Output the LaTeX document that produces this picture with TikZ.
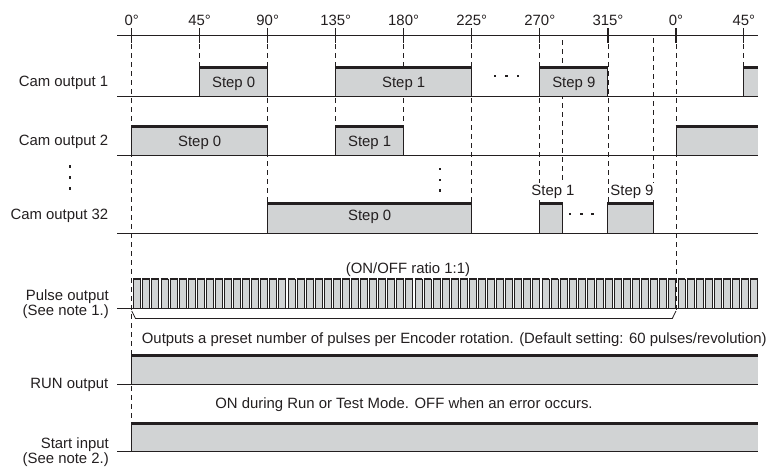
\documentclass[tikz,border=0pt]{standalone}
\usepackage{fontspec}
\setmainfont{Liberation Sans}
\definecolor{ink}{HTML}{231F20}
\definecolor{greyfill}{HTML}{D1D3D4}
\tikzset{
  lbl/.style={font=\fontsize{14.9}{17}\selectfont, inner sep=0pt, text=ink},
  twoline/.style={font=\fontsize{14.9}{13.3}\selectfont, inner sep=0pt, text=ink, align=right},
  baseln/.style={line width=1pt, draw=ink},
  highline/.style={line width=3pt, draw=ink},
  edgeline/.style={line width=0.9pt, draw=ink},
  guide/.style={line width=0.8pt, draw=ink, dash pattern=on 5pt off 4pt},
  tickln/.style={line width=1.3pt, draw=ink},
  dotsq/.style={fill=ink, minimum size=2.7pt, inner sep=0pt, draw=none, rectangle},
}
\newcommand\onblock[5]{%
  \fill[greyfill] (#1,#3) rectangle (#2,#4);
  \draw[edgeline] (#1,#4) -- (#1,#3);
  \ifnum#5=1 \draw[edgeline] (#2,#3) -- (#2,#4);\fi
  \draw[highline] (#1-0.45,#3) -- (#2+0.45,#3);
}
\begin{document}
\begin{tikzpicture}[x=1pt,y=-1pt]
\useasboundingbox (0,0) rectangle (770,469);

% ---------- angle axis ----------
\draw[line width=1.2pt, draw=ink] (117,35.7) -- (758,35.7);
\foreach \x/\t [count=\n] in {131.7/0,199.6/45,267.7/90,335.7/135,403.6/180,471.7/225,539.8/270,607.9/315,676/0,743.8/45}{
  \draw[tickln] (\x,28.3) -- (\x,43.3);
  \node[lbl, anchor=base] (ang\n) at (\x,25) {\t°};
}

% ---------- dashed guides ----------
\draw[guide] (131.7,44) -- (131.7,423);
\draw[guide] (199.6,44) -- (199.6,67);
\draw[guide] (267.7,44) -- (267.7,233);
\draw[guide] (335.7,44) -- (335.7,155.7);
\draw[guide] (403.6,44) -- (403.6,155.7);
\draw[guide] (471.7,44) -- (471.7,233);
\draw[guide] (539.8,44) -- (539.8,233);
\draw[guide] (562.5,40) -- (562.5,233);
\draw[guide] (607.9,44) -- (607.9,233);
\draw[guide] (653.4,38) -- (653.4,233);
\draw[guide] (676,44) -- (676,311);
\draw[guide] (743.8,44) -- (743.8,67);

% ---------- Cam output 1 ----------
\onblock{199.6}{267.7}{67}{96}{1}
\onblock{335.7}{471.7}{67}{96}{1}
\onblock{539.8}{607.9}{67}{96}{1}
\onblock{743.8}{758}{67}{96}{0}
\draw[baseln] (117,96) -- (758,96);
\node[lbl, anchor=base east] (cam1) at (108.5,86) {Cam output 1};
\node[lbl, anchor=base] (c1s0) at (233.6,87) {Step 0};
\node[lbl, anchor=base] (c1s1) at (403.7,87) {Step 1};
\node[lbl, anchor=base] (c1s9) at (573.8,87) {Step 9};
\node[dotsq] (c1d1) at (495,76) {};
\node[dotsq] (c1d2) at (506.5,76) {};
\node[dotsq] (c1d3) at (518,76) {};

% ---------- Cam output 2 ----------
\onblock{131.7}{267.7}{126.7}{155.7}{1}
\onblock{335.7}{403.6}{126.7}{155.7}{1}
\onblock{676}{758}{126.7}{155.7}{0}
\draw[baseln] (117,155.7) -- (758,155.7);
\node[lbl, anchor=base east] (cam2) at (108.5,145.5) {Cam output 2};
\node[lbl, anchor=base] (c2s0) at (199.7,146.5) {Step 0};
\node[lbl, anchor=base] (c2s1) at (369.6,146.5) {Step 1};

% vertical ellipses
\node[dotsq] (vl1) at (70,166.7) {};
\node[dotsq] (vl2) at (70,177.6) {};
\node[dotsq] (vl3) at (70,188.4) {};
\node[dotsq] (vm1) at (440,169) {};
\node[dotsq] (vm2) at (440,180) {};
\node[dotsq] (vm3) at (440,190.8) {};

% ---------- Cam output 32 ----------
\onblock{267.7}{471.7}{203}{233}{1}
\onblock{539.8}{562.5}{203}{233}{1}
\onblock{607.9}{653.4}{203}{233}{1}
\draw[baseln] (117,233) -- (758,233);
\node[lbl, anchor=base east] (cam32) at (108.5,219.3) {Cam output 32};
\node[lbl, anchor=base] (c32s0) at (369.7,220) {Step 0};
\node[lbl, anchor=base, fill=white, inner xsep=1pt, inner ysep=1.5pt] (c32s1) at (553,195) {Step 1};
\node[lbl, anchor=base, fill=white, inner xsep=1pt, inner ysep=1.5pt] (c32s9) at (632,195) {Step 9};
\node[dotsq] (c32d1) at (570,214) {};
\node[dotsq] (c32d2) at (581.2,214) {};
\node[dotsq] (c32d3) at (592.4,214) {};

% ---------- Pulse output ----------
\node[lbl, anchor=base] (ratio) at (408,273) {(ON/OFF ratio 1:1)};
\foreach \i in {0,...,68}{
  \pgfmathsetmacro\px{133.8+9.07*\i}
  \fill[greyfill] (\px,278.5) rectangle (\px+7,308.5);
  \draw[edgeline] (\px,308.5) -- (\px,278.5);
  \draw[edgeline] (\px+7,278.5) -- (\px+7,308.5);
  \draw[line width=2pt, draw=ink] (\px-0.45,278.7) -- (\px+7.45,278.7);
}
\draw[baseln] (117,308.5) -- (758,308.5);
\node[twoline, anchor=base east] (pulse) at (109,315) {Pulse output\\(See note 1.)};
\draw[line width=0.8pt, draw=ink] (131.7,311) -- (135.5,318.5) -- (672.3,318.5) -- (676,311);
\node[lbl, anchor=base west] (presettxt) at (141.7,343) {Outputs a preset number of pulses per Encoder rotation. (Default setting: 60 pulses/revolution)};

% ---------- RUN output ----------
\onblock{131.7}{758}{355}{384}{0}
\draw[baseln] (117,384) -- (758,384);
\node[lbl, anchor=base east] (run) at (108.5,388) {RUN output};
\node[lbl, anchor=base] (runtxt) at (404,408) {ON during Run or Test Mode. OFF when an error occurs.};

% ---------- Start input ----------
\onblock{131.7}{758}{423}{451.7}{0}
\draw[baseln] (117,451.7) -- (758,451.7);
\node[twoline, anchor=base east] (start) at (109,463) {Start input\\(See note 2.)};
\end{tikzpicture}
\end{document}
